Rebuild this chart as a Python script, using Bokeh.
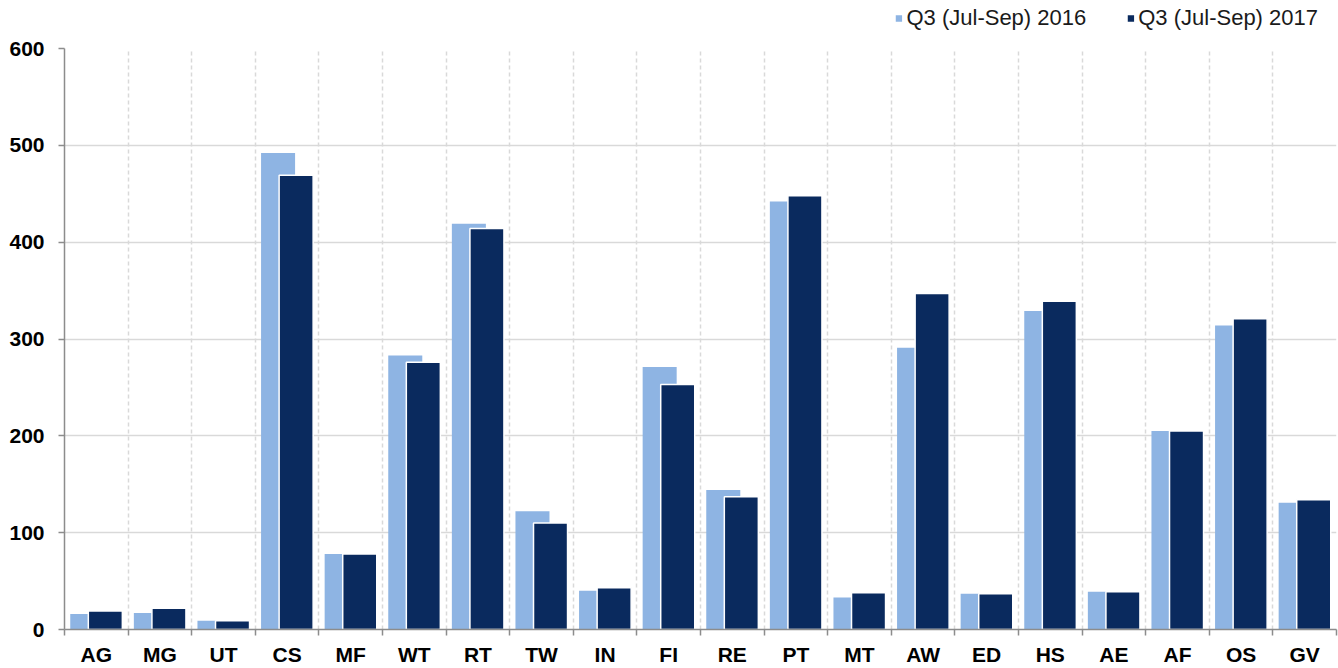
from bokeh.plotting import figure
from bokeh.models import Range1d, FixedTicker, ColumnDataSource, Legend, LegendItem
from bokeh.layouts import column
from bokeh.embed import file_html
from bokeh.resources import INLINE

categories = ["AG", "MG", "UT", "CS", "MF", "WT", "RT", "TW", "IN", "FI",
              "RE", "PT", "MT", "AW", "ED", "HS", "AE", "AF", "OS", "GV"]
q3_2016 = [16, 17, 9, 492, 78, 283, 419, 122, 40, 271,
           144, 442, 33, 291, 37, 329, 39, 205, 314, 131]
q3_2017 = [19, 22, 9, 469, 78, 276, 414, 110, 43, 253,
           137, 448, 38, 347, 37, 339, 39, 205, 321, 134]
series_names = ["Q3 (Jul-Sep) 2016", "Q3 (Jul-Sep) 2017"]
y_ticks = [0, 100, 200, 300, 400, 500, 600]

LIGHT = "#8eb4e3"
DARK = "#0a2a5e"
FONT = "Liberation Sans"

W = 1338
LEG_H = 36
H = 668 - LEG_H
B_LEFT, B_RIGHT, B_TOP, B_BOTTOM = 64, 2, 12, 38

n = len(categories)
centers = [i + 0.5 for i in range(n)]
bounds = list(range(n + 1))

src = ColumnDataSource(dict(
    x1=[c - 0.142 for c in centers],
    x2=[c + 0.142 for c in centers],
    v1=q3_2016,
    v2=q3_2017,
))

p = figure(width=W, height=H, output_backend="svg", toolbar_location=None,
           x_range=Range1d(0, n), y_range=Range1d(0, 600),
           min_border_left=B_LEFT, min_border_right=B_RIGHT,
           min_border_bottom=B_BOTTOM, min_border_top=B_TOP)
p.outline_line_color = None
p.background_fill_color = "white"
p.border_fill_color = "white"

r1 = p.vbar(x="x1", top="v1", width=0.535, bottom=0, source=src,
            fill_color=LIGHT, line_color=None)
r2 = p.vbar(x="x2", top="v2", width=0.535, bottom=0, source=src,
            fill_color=DARK, line_color="white", line_width=1.5)

# x axis
p.xaxis.ticker = FixedTicker(ticks=centers, minor_ticks=bounds)
p.xaxis.major_label_overrides = {c: cat for c, cat in zip(centers, categories)}
p.xaxis.major_tick_line_color = None
p.xaxis.major_tick_in = 0
p.xaxis.major_tick_out = 0
p.xaxis.minor_tick_in = 0
p.xaxis.minor_tick_out = 6
p.xaxis.minor_tick_line_color = "#8c8c8c"
p.xaxis.minor_tick_line_width = 1.5
p.xaxis.axis_line_color = "#8c8c8c"
p.xaxis.axis_line_width = 1.5
p.xaxis.major_label_text_font = FONT
p.xaxis.major_label_text_font_style = "bold"
p.xaxis.major_label_text_font_size = "21px"
p.xaxis.major_label_text_color = "black"
p.xaxis.major_label_standoff = 7

# y axis
p.yaxis.ticker = FixedTicker(ticks=y_ticks)
p.yaxis.axis_line_color = "#8c8c8c"
p.yaxis.axis_line_width = 1.5
p.yaxis.major_tick_line_color = "#8c8c8c"
p.yaxis.major_tick_line_width = 1.5
p.yaxis.major_tick_in = 0
p.yaxis.major_tick_out = 6
p.yaxis.minor_tick_line_color = None
p.yaxis.major_label_text_font = FONT
p.yaxis.major_label_text_font_style = "bold"
p.yaxis.major_label_text_font_size = "21px"
p.yaxis.major_label_text_color = "black"
p.yaxis.major_label_standoff = 14

# grids
p.xgrid.ticker = FixedTicker(ticks=bounds)
p.xgrid.grid_line_color = "#d9d9d9"
p.xgrid.grid_line_width = 1.5
p.xgrid.grid_line_dash = "4 3"
p.ygrid.ticker = FixedTicker(ticks=y_ticks)
p.ygrid.grid_line_color = "#d9d9d9"
p.ygrid.grid_line_width = 1.5

# legend strip above the chart (same data, viewed off-range so only the key shows)
lg = figure(width=W, height=LEG_H, output_backend="svg", toolbar_location=None,
            x_axis_location=None, y_axis_location=None,
            x_range=Range1d(1000, 1001), y_range=Range1d(1000, 1001),
            min_border=0)
lg.outline_line_color = None
lg.xgrid.visible = False
lg.ygrid.visible = False
e1 = lg.vbar(x="x1", top="v1", width=0.535, bottom=0, source=src,
             fill_color=LIGHT, line_color=None)
e2 = lg.vbar(x="x2", top="v2", width=0.535, bottom=0, source=src,
             fill_color=DARK, line_color=None)

legend = Legend(items=[LegendItem(label=series_names[0], renderers=[e1]),
                       LegendItem(label=series_names[1], renderers=[e2])],
                orientation="horizontal", location="right")
legend.label_text_font = FONT
legend.label_text_font_size = "22px"
legend.label_text_color = "#1a1a1a"
legend.glyph_width = 8
legend.glyph_height = 8
legend.label_standoff = 4
legend.spacing = 40
legend.padding = 0
legend.margin = 18
legend.border_line_color = None
legend.background_fill_alpha = 0
legend.label_height = 22
lg.add_layout(legend, "center")

layout = column(lg, p, spacing=0)
open("out.html", "w").write(file_html(layout, INLINE))
